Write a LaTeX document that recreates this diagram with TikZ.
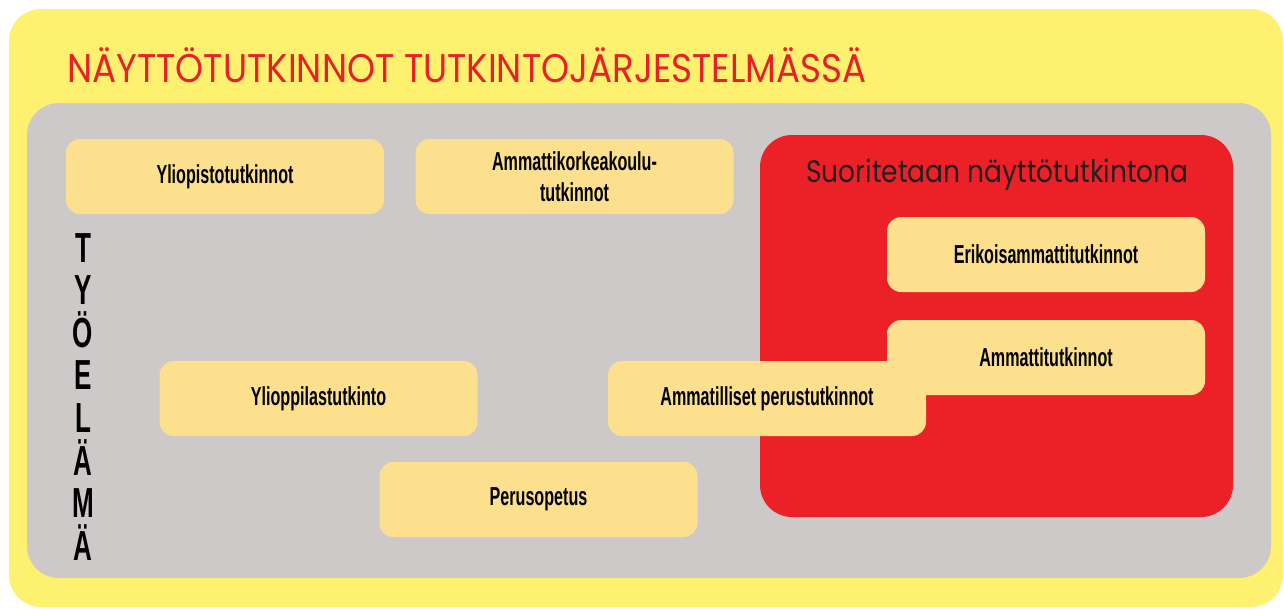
\documentclass[tikz,border=0pt]{standalone}
\usepackage{fontspec}
\setmainfont{Liberation Sans}
\newfontfamily\titlefont[FakeStretch=0.893]{Poppins}
\newfontfamily\subfont[FakeStretch=0.855]{Poppins}
\newfontfamily\condfont[FakeStretch=0.62]{Liberation Sans}
\definecolor{bgyellow}{HTML}{FEF16F}
\definecolor{framegray}{HTML}{CDC9C8}
\definecolor{showred}{HTML}{EC2027}
\definecolor{boxyellow}{HTML}{FCE08E}
\definecolor{titlered}{HTML}{E8202A}
\definecolor{textdark}{HTML}{231F20}

\begin{document}
\begin{tikzpicture}[x=1pt,y=-1pt,
  qual/.style={fill=boxyellow,rounded corners=14pt,minimum width=318pt,minimum height=75pt,
    inner sep=0pt,align=center,text=black,font=\condfont\bfseries\fontsize{26}{31}\selectfont},
  vletter/.style={anchor=base,text=black,font=\condfont\bfseries\fontsize{42}{42}\selectfont}]
\useasboundingbox (0,0) rectangle (1284,608);
\fill[bgyellow,rounded corners=32pt] (9,9) rectangle (1283,607);
\fill[framegray,rounded corners=32pt] (27,103) rectangle (1271,578);
\fill[showred,rounded corners=32pt] (760,135) rectangle (1233,517);
\node[anchor=base west,inner sep=0pt,text=titlered,font=\titlefont\fontsize{40}{40}\selectfont] (title) at (67,82) {NÄYTTÖTUTKINNOT TUTKINTOJÄRJESTELMÄSSÄ};
\node[anchor=base west,inner sep=0pt,text=textdark,font=\subfont\fontsize{31}{31}\selectfont] (naytto) at (806,182) {Suoritetaan näyttötutkintona};
\node[qual] (yliopisto) at (225,176.5) {Yliopistotutkinnot};
\node[qual] (amk) at (574.5,176.5) {Ammattikorkeakoulu-\\tutkinnot};
\node[qual] (eat) at (1046,254.5) {Erikoisammattitutkinnot};
\node[qual] (at) at (1046,357.5) {Ammattitutkinnot};
\node[qual] (ylioppilas) at (318.5,398.5) {Ylioppilastutkinto};
\node[qual] (perustutk) at (767,398.5) {Ammatilliset perustutkinnot};
\node[qual] (perusopetus) at (538.5,499.5) {Perusopetus};
\foreach \c [count=\i from 0] in {T,Y,Ö,E,L,Ä,M,Ä}
  \node[vletter] (tyo\i) at (83,262+42.6*\i) {\c};
\end{tikzpicture}
\end{document}
